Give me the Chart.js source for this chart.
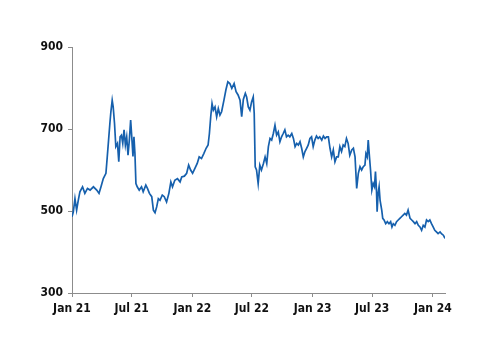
<!DOCTYPE html>
<html>
<head>
<meta charset="utf-8">
<title>Price chart</title>
<script src="https://cdn.jsdelivr.net/npm/chart.js@4.4.1/dist/chart.umd.min.js"></script>
<style>
  html, body { margin: 0; padding: 0; background: #fff; }
  #chart { display: block; }
</style>
</head>
<body>
<canvas id="chart" width="500" height="353"></canvas>
<script>
"use strict";

// --- Data (days since 1 Jan 2021) ---
const dayOffsets = [
    0, 4, 9, 14, 19, 24, 32, 39, 47, 55, 65, 75, 82, 88, 95, 103, 107, 111, 115, 118,
    122, 125, 129, 133, 138, 142, 146, 150, 154, 158, 162, 166, 170, 174, 178, 182, 185, 188, 191, 194,
    198, 204, 211, 216, 224, 229, 235, 242, 247, 252, 257, 262, 267, 274, 280, 287, 294, 300, 305, 312,
    320, 328, 333, 341, 348, 354, 360, 366, 373, 380, 386, 393, 400, 407, 413, 417, 421, 425, 429, 434,
    439, 444, 449, 454, 461, 467, 473, 479, 485, 492, 498, 504, 510, 515, 520, 526, 530, 535, 540, 545,
    550, 553, 556, 560, 565, 570, 575, 581, 586, 591, 596, 601, 606, 611, 616, 621, 626, 631, 636, 641,
    646, 651, 656, 661, 667, 672, 677, 682, 687, 692, 697, 702, 707, 712, 717, 722, 727, 732, 737, 742,
    747, 752, 758, 763, 768, 773, 778, 783, 788, 793, 798, 803, 808, 813, 818, 823, 828, 833, 838, 843,
    849, 854, 859, 864, 869, 874, 879, 884, 889, 892, 896, 899, 902, 906, 910, 914, 918, 921, 924, 926,
    929, 932, 935, 940, 943, 947, 952, 957, 962, 967, 971, 975, 980, 985, 990, 995, 1000, 1005, 1010, 1015,
    1020, 1026, 1031, 1036, 1041, 1046, 1051, 1056, 1061, 1066, 1071, 1076, 1081, 1086, 1091, 1096, 1101, 1106, 1111, 1117,
    1122, 1127, 1132
];
const priceValues = [
    486, 498, 530, 502, 526, 547, 559, 543, 555, 551, 559, 551, 543, 559, 579, 592, 632, 673, 714, 742,
    770, 754, 714, 657, 665, 620, 681, 685, 665, 698, 661, 681, 636, 673, 722, 673, 633, 681, 640, 567,
    559, 551, 559, 547, 563, 555, 543, 535, 502, 496, 510, 530, 526, 539, 535, 522, 543, 571, 559, 575,
    579, 571, 583, 585, 592, 612, 600, 592, 604, 616, 632, 628, 640, 653, 661, 689, 730, 762, 746, 754,
    730, 750, 734, 742, 770, 795, 815, 811, 799, 811, 791, 783, 770, 730, 772, 787, 778, 754, 746, 766,
    778, 738, 608, 600, 567, 612, 600, 616, 632, 616, 657, 677, 673, 689, 709, 685, 693, 669, 681, 689,
    698, 681, 685, 681, 689, 677, 657, 665, 661, 669, 653, 632, 645, 653, 661, 677, 681, 657, 673, 683,
    677, 681, 673, 683, 677, 681, 681, 653, 632, 649, 620, 632, 632, 657, 645, 661, 657, 677, 665, 636,
    649, 653, 632, 555, 592, 608, 600, 608, 612, 640, 632, 673, 640, 600, 551, 567, 559, 596, 551, 498,
    543, 559, 526, 502, 482, 478, 469, 474, 469, 474, 461, 469, 465, 474, 478, 482, 486, 490, 494, 490,
    502, 482, 478, 474, 469, 474, 465, 461, 453, 465, 461, 478, 474, 478, 469, 461, 453, 449, 445, 449,
    444, 441, 433
];

// --- Axis ticks ---
const tickDays = [0, 181, 365, 546, 730, 911, 1095];
const tickLabels = ['Jan 21', 'Jul 21', 'Jan 22', 'Jul 22', 'Jan 23', 'Jul 23', 'Jan 24'];
const yTicks = [300, 500, 700, 900];

const axisColor = '#8c8c8c';
const labelColor = '#111111';
const lineColor = '#1660ad';
const tickFont = { family: "'DejaVu Sans Condensed', 'DejaVu Sans', sans-serif", size: 12, weight: 'bold' };

const ctx = document.getElementById('chart').getContext('2d');

new Chart(ctx, {
    type: 'line',
    data: {
        datasets: [{
            data: dayOffsets.map((d, i) => ({ x: d, y: priceValues[i] })),
            borderColor: lineColor,
            borderWidth: 1.7,
            pointRadius: 0,
            tension: 0,
            fill: false
        }]
    },
    options: {
        responsive: false,
        animation: false,
        events: [],
        layout: { padding: { left: 0, top: 47, right: 55, bottom: 38 } },
        plugins: {
            legend: { display: false },
            tooltip: { enabled: false }
        },
        scales: {
            x: {
                type: 'linear',
                min: 0,
                max: 1132,
                afterBuildTicks: scale => { scale.ticks = tickDays.map(v => ({ value: v })); },
                afterFit: scale => { scale.height = 22; },
                ticks: {
                    autoSkip: false,
                    maxRotation: 0,
                    padding: 5,
                    color: labelColor,
                    font: tickFont,
                    callback: value => tickLabels[tickDays.indexOf(value)] ?? ''
                },
                grid: { drawOnChartArea: false, drawTicks: true, tickLength: 4, color: axisColor },
                border: { display: true, color: axisColor, width: 1 }
            },
            y: {
                min: 300,
                max: 900,
                afterBuildTicks: scale => { scale.ticks = yTicks.map(v => ({ value: v })); },
                afterFit: scale => { scale.width = 72; },
                ticks: { padding: 5, color: labelColor, font: tickFont },
                grid: { drawOnChartArea: false, drawTicks: true, tickLength: 4, color: axisColor },
                border: { display: true, color: axisColor, width: 1 }
            }
        }
    }
});
</script>
</body>
</html>
